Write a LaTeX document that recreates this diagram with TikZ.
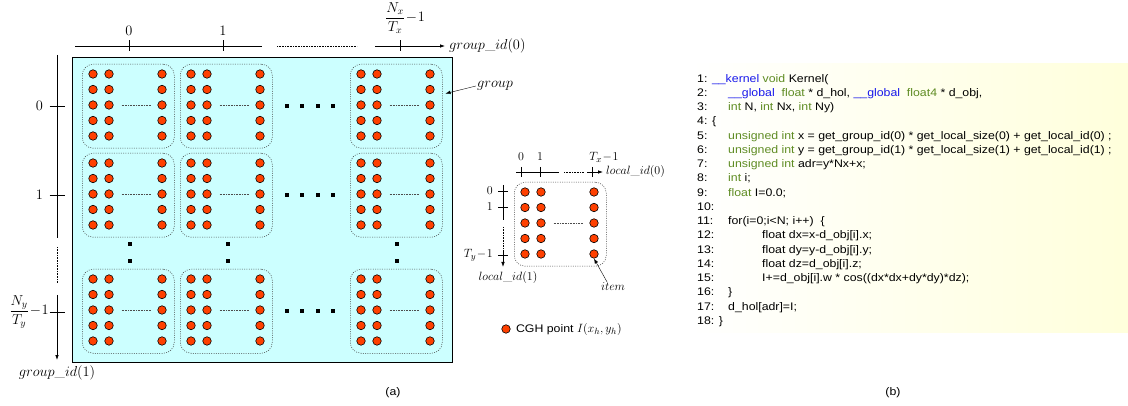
\documentclass[tikz,border=0pt]{standalone}
\usepackage{amsmath}
\usepackage{fontspec}
\newfontfamily\arialf{Liberation Sans}[FakeStretch=1.12]
\usetikzlibrary{arrows.meta,positioning,calc}
\definecolor{cyanbg}{RGB}{204,255,255}
\definecolor{cghred}{RGB}{255,64,0}
\definecolor{kwblue}{RGB}{25,25,235}
\definecolor{tygreen}{RGB}{95,140,35}
\newcommand\kw[1]{\textcolor{kwblue}{#1}}
\newcommand\ty[1]{\textcolor{tygreen}{#1}}
\newcommand\lnum[1]{\makebox[31pt][l]{#1}}
\newcommand\lnumm[1]{\makebox[65pt][l]{#1}}
% one work-group: dotted box with 5x3 CGH points
\newcommand\cghgroup[3]{%
  \node[grp, anchor=north west] (#3) at (#1,#2) {};
  \foreach \r/\ry in {1/10,2/25.5,3/41,4/56.5,5/72}{
    \foreach \c/\cx in {1/11,2/27,3/80}{
      \node[cgh] (#3-\r-\c) at (#1+\cx,#2+\ry) {};}}
  \draw[hd] ([xshift=8pt]#3-3-2.east) -- ([xshift=-7pt]#3-3-3.west);
}

\begin{document}
\begin{tikzpicture}[x=1pt, y=-1pt, >={Latex[length=5pt,width=3.6pt]},
    lab/.style={font=\fontsize{14}{16}\selectfont, inner sep=1pt},
    llab/.style={font=\fontsize{12.5}{14}\selectfont, inner sep=1pt},
    ax/.style={line width=0.8pt},
    axd/.style={line width=0.8pt, dash pattern=on 0.8pt off 0.8pt},
    grp/.style={draw=black!75, line width=0.5pt, dash pattern=on 1pt off 1.3pt,
      rounded corners=11pt, minimum width=92pt, minimum height=84pt, inner sep=0pt},
    cgh/.style={circle, draw, line width=0.6pt, fill=cghred, minimum size=8.5pt, inner sep=0pt},
    hd/.style={black!70, line width=0.6pt, dash pattern=on 0.8pt off 0.8pt},
    sq/.style={fill=black, minimum size=3.2pt, inner sep=0pt},
    sans/.style={font=\arialf\fontsize{11}{13}\selectfont}]
  \useasboundingbox (0,0) rectangle (1128,406);

  % (a) the NDRange of work-groups
  \node[draw, line width=0.8pt, fill=cyanbg, minimum width=380pt, minimum height=305pt,
    anchor=north west] (grid) at (72,57) {};
  \foreach \gc/\gx in {1/82,2/180,3/350}
    \foreach \gr/\gy in {1/64,2/153,3/269}
      {\cghgroup{\gx}{\gy}{g\gr\gc}}
  \foreach \ey in {106,195,311}
    \foreach \ex in {287,302,318,333}
      \node[sq] (e\ey-\ex) at (\ex,\ey) {};
  \foreach \vx in {130,228,397}
    \foreach \vy in {244,261}
      \node[sq] (v\vx-\vy) at (\vx,\vy) {};

  % group_id(0) axis
  \coordinate (tx0) at (75,46);  \coordinate (tx1) at (262,46);
  \coordinate (tx2) at (277,46); \coordinate (tx3) at (357,46);
  \coordinate (tx4) at (375,46); \coordinate (tx5) at (445,46);
  \draw[ax] (tx0) -- (tx1); \draw[axd] (tx2) -- (tx3); \draw[ax,->] (tx4) -- (tx5);
  \coordinate (gx0) at (129,46); \coordinate (gx1) at (223,46); \coordinate (gx2) at (400,46);
  \foreach \t in {gx0,gx1,gx2} \draw[ax] (\t) ++(0,-5.5) -- ++(0,11);
  \node[lab, above=9pt of gx0] (gx0l) {$0$};
  \node[lab, above=9pt of gx1] (gx1l) {$1$};
  \node[lab, above=11pt of gx2, xshift=5pt] (gx2l) {$\dfrac{N_x}{T_x}\!-\!1$};
  \node[lab, right=3pt of tx5] (gid0) {$group\_id(0)$};

  % group_id(1) axis
  \coordinate (ty0) at (57,55);  \coordinate (ty1) at (57,238);
  \coordinate (ty2) at (57,247); \coordinate (ty3) at (57,283);
  \coordinate (ty4) at (57,295); \coordinate (ty5) at (57,360);
  \draw[ax] (ty0) -- (ty1); \draw[axd] (ty2) -- (ty3); \draw[ax,->] (ty4) -- (ty5);
  \coordinate (gy0) at (57,106); \coordinate (gy1) at (57,195); \coordinate (gy2) at (57,312);
  \foreach \t in {gy0,gy1,gy2} \draw[ax] (\t) ++(-7.5,0) -- ++(15,0);
  \node[lab, left=13pt of gy0] (gy0l) {$0$};
  \node[lab, left=13pt of gy1] (gy1l) {$1$};
  \node[lab, left=7pt of gy2] (gy2l) {$\dfrac{N_y}{T_y}\!-\!1$};
  \node[lab, below=4pt of ty5] (gid1) {$group\_id(1)$};

  % group label
  \node[lab] (glab) at (495,86) {$group$};
  \coordinate (gtip) at ($(g13.north east)!0.35!(g13.south east)+(3,0)$);
  \draw[->] (glab.west) -- (gtip);

  % one work-group with its local ids
  \cghgroup{514}{182}{loc}
  \coordinate (lx0) at (516,172); \coordinate (lx1) at (559,172);
  \coordinate (lx2) at (564,172); \coordinate (lx3) at (584,172);
  \coordinate (lx4) at (587,172); \coordinate (lx5) at (603,172);
  \draw[ax] (lx0) -- (lx1); \draw[axd] (lx2) -- (lx3); \draw[ax,->] (lx4) -- (lx5);
  \coordinate (lxt0) at (521,172); \coordinate (lxt1) at (540,172); \coordinate (lxt2) at (592,172);
  \foreach \t in {lxt0,lxt1,lxt2} \draw[ax] (\t) ++(0,-5) -- ++(0,10);
  \node[llab, above=10pt of lxt0] (lx0l) {$0$};
  \node[llab, above=10pt of lxt1] (lx1l) {$1$};
  \node[llab, above=8pt of lxt2, xshift=12pt] (lx2l) {$T_x\!-\!1$};
  \node[llab, right=2pt of lx5] (lid0) {$local\_id(0)$};

  \coordinate (ly0) at (503,185); \coordinate (ly1) at (503,220);
  \coordinate (ly2) at (503,227); \coordinate (ly3) at (503,248);
  \coordinate (ly4) at (503,250); \coordinate (ly5) at (503,267);
  \draw[ax] (ly0) -- (ly1); \draw[axd] (ly2) -- (ly3); \draw[ax,->] (ly4) -- (ly5);
  \coordinate (lyt0) at (503,191); \coordinate (lyt1) at (503,207); \coordinate (lyt2) at (503,255);
  \foreach \t in {lyt0,lyt1,lyt2} \draw[ax] (\t) ++(-5,0) -- ++(10,0);
  \node[llab, left=9pt of lyt0] (ly0l) {$0$};
  \node[llab, left=9pt of lyt1] (ly1l) {$1$};
  \node[llab, left=9pt of lyt2] (ly2l) {$T_y\!-\!1$};
  \node[llab, below=3pt of ly5, xshift=5pt] (lid1) {$local\_id(1)$};

  \node[llab] (ilab) at (613,287) {$item$};
  \draw[->] ([xshift=-6pt]ilab.north) -- (loc-5-3.south);

  % legend
  \node[cgh] (lgd) at (506,329) {};
  \node[sans, right=2pt of lgd] (lgdt) {CGH point {\fontsize{12.5}{14}\selectfont$I(x_h,y_h)$}};
  \node[sans] (capa) at (393,393) {(a)};

  % (b) the OpenCL kernel
  \shade[left color=white, middle color=yellow!22, right color=yellow!14]
    (690,64) rectangle (1128,332);
  \node[anchor=north west, inner sep=0pt, align=left,
    font=\arialf\fontsize{11}{14.25}\selectfont] (kernel) at (697,74) {%
    1: \kw{\_\_kernel} \ty{void} Kernel(\\
    \lnum{2:}\kw{\_\_global}\ \ \ty{float} * d\_hol, \kw{\_\_global}\ \ \ty{float4} * d\_obj,\\
    \lnum{3:}\ty{int} N, \ty{int} Nx, \ty{int} Ny)\\
    4: \{\\
    \lnum{5:}\ty{unsigned int} x = get\_group\_id(0) * get\_local\_size(0) + get\_local\_id(0) ;\\
    \lnum{6:}\ty{unsigned int} y = get\_group\_id(1) * get\_local\_size(1) + get\_local\_id(1) ;\\
    \lnum{7:}\ty{unsigned int} adr=y*Nx+x;\\
    \lnum{8:}\ty{int} i;\\
    \lnum{9:}\ty{float} I=0.0;\\
    10:\\
    \lnum{11:}for(i=0;i<N; i++)\ \ \{\\
    \lnumm{12:}float dx=x-d\_obj[i].x;\\
    \lnumm{13:}float dy=y-d\_obj[i].y;\\
    \lnumm{14:}float dz=d\_obj[i].z;\\
    \lnumm{15:}I+=d\_obj[i].w * cos((dx*dx+dy*dy)*dz);\\
    \lnum{16:}\}\\
    \lnum{17:}d\_hol[adr]=I;\\
    18: \}};
  \node[sans] (capb) at (893,393) {(b)};
\end{tikzpicture}
\end{document}
